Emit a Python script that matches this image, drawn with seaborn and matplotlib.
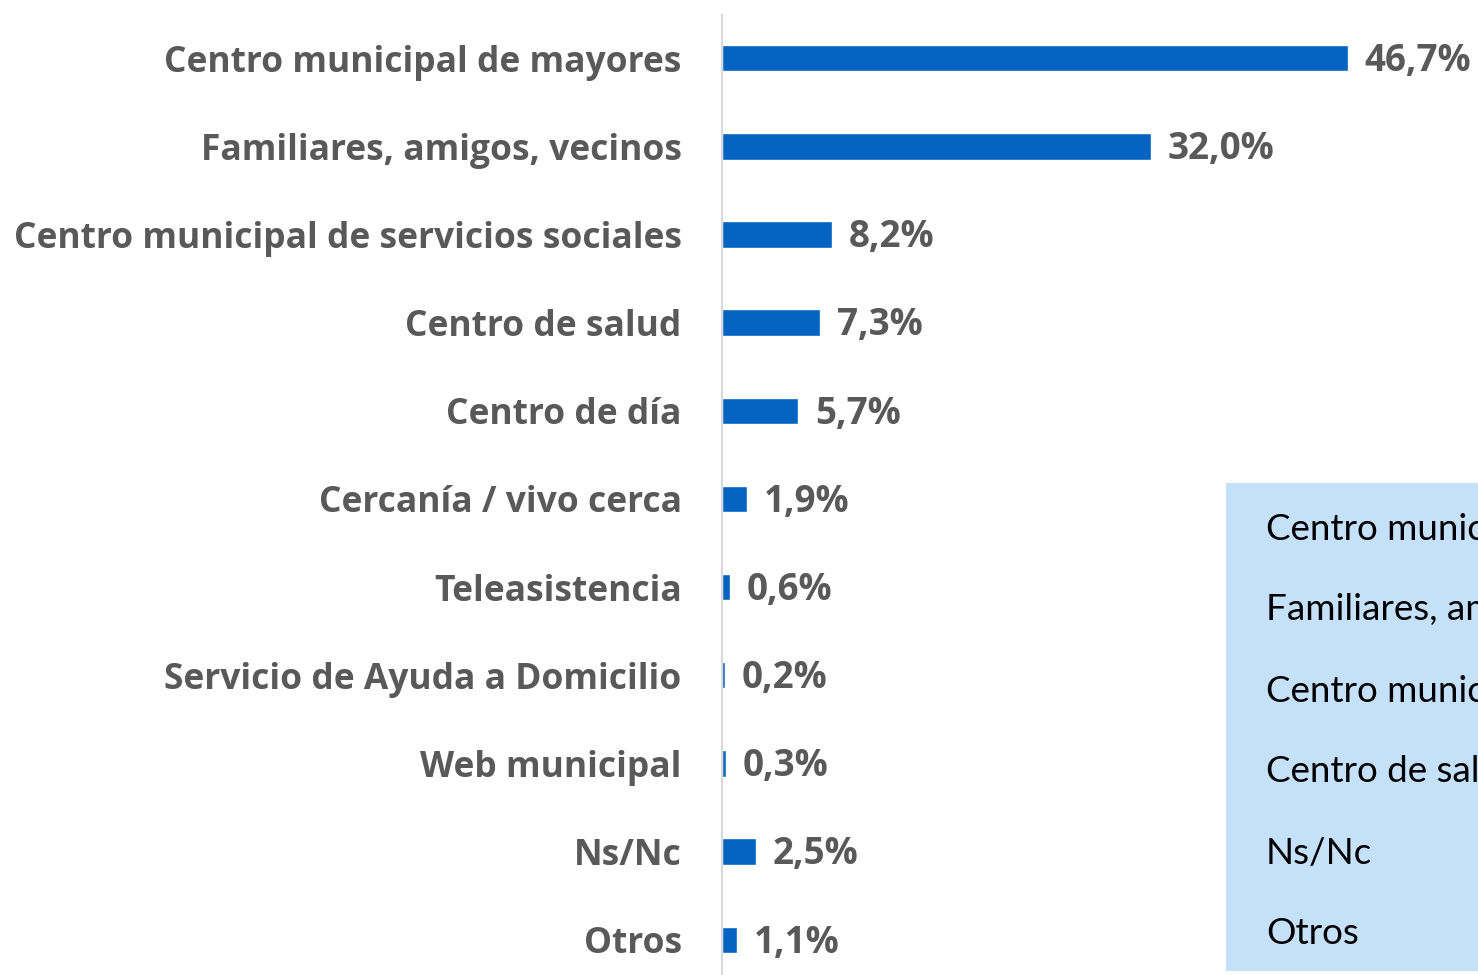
import matplotlib.pyplot as plt
import pandas as pd
import seaborn as sns
from matplotlib.patches import Rectangle

# data
categories = ['Centro municipal de mayores', 'Familiares, amigos, vecinos',
              'Centro municipal de servicios sociales', 'Centro de salud',
              'Centro de día', 'Cercanía / vivo cerca', 'Teleasistencia',
              'Servicio de Ayuda a Domicilio', 'Web municipal', 'Ns/Nc', 'Otros']
values = [46.7, 32.0, 8.2, 7.3, 5.7, 1.9, 0.6, 0.2, 0.3, 2.5, 1.1]
box_items = ['Centro municipal de mayores', 'Familiares, amigos, vecinos',
             'Centro municipal de servicios sociales', 'Centro de salud',
             'Ns/Nc', 'Otros']

df = pd.DataFrame({'cat': categories, 'pct': values})

sns.set_style('white')
plt.rcParams['font.family'] = ['Open Sans', 'DejaVu Sans']

fig = plt.figure(figsize=(14.78, 9.75), dpi=100)
ax = fig.add_axes([722 / 1478, 0, 756 / 1478, 1 - 15 / 975])

sns.barplot(data=df, x='pct', y='cat', orient='h', color='#0563C1',
            saturation=1, width=0.3, ax=ax)
ax.set_xlim(0, 56.4)
ax.set_ylim(10.4, -0.49)

# value labels next to each bar
for i, v in enumerate(values):
    ax.annotate(f'{v:.1f}%'.replace('.', ','), (v, i), xytext=(12, -2),
                textcoords='offset points', ha='left', va='center',
                fontsize=26.5, fontweight='bold', color='#595959')

ax.set_xlabel('')
ax.set_ylabel('')
ax.set_xticks([])
ax.tick_params(axis='y', length=0, pad=29, labelsize=25.5, labelcolor='#595959')
for t in ax.get_yticklabels():
    t.set_fontweight('bold')
for s in ['top', 'right', 'bottom']:
    ax.spines[s].set_visible(False)
ax.spines['left'].set_color('#D9D9D9')
ax.spines['left'].set_linewidth(1.5)

# light blue box on the right, cut off by the figure edge
fig.patches.append(Rectangle((1226 / 1478, 4 / 975), 0.3, (971 - 483) / 975,
                             transform=fig.transFigure, facecolor='#C5E0F9',
                             edgecolor='none', zorder=0))
for i, item in enumerate(box_items):
    fig.text(1266 / 1478, 1 - (529 + 81 * i) / 975, item, fontsize=26.5,
             family=['Lato', 'DejaVu Sans'], color='black', va='center', ha='left')

fig.savefig('out.png', dpi=100)
